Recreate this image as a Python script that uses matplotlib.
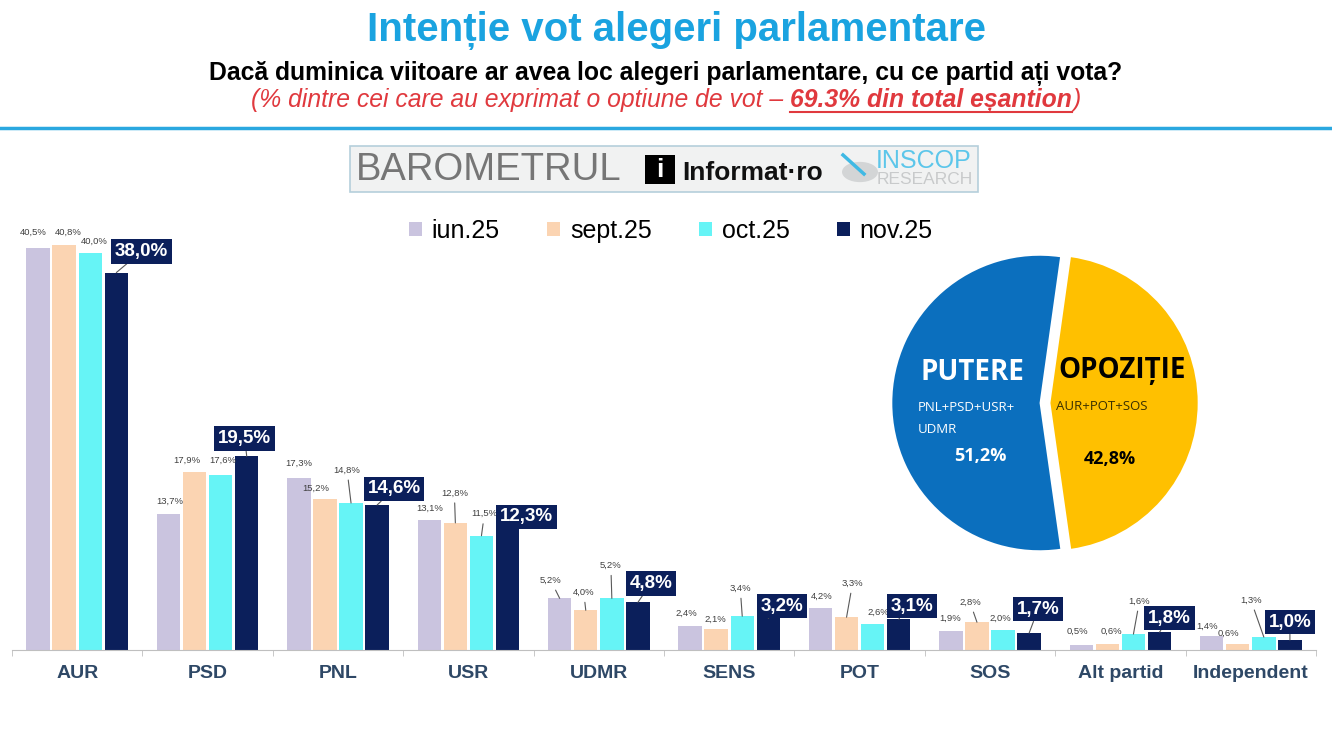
import matplotlib
matplotlib.use("Agg")
import matplotlib.pyplot as plt
from matplotlib.patches import Rectangle, Circle
from matplotlib.lines import Line2D

plt.rcParams['font.family'] = ['Liberation Sans', 'DejaVu Sans']

# data
parties = ["AUR", "PSD", "PNL", "USR", "UDMR", "SENS", "POT", "SOS", "Alt partid", "Independent"]
waves = ["iun.25", "sept.25", "oct.25", "nov.25"]
iun25 = [40.5, 13.7, 17.3, 13.1, 5.2, 2.4, 4.2, 1.9, 0.5, 1.4]
sept25 = [40.8, 17.9, 15.2, 12.8, 4.0, 2.1, 3.3, 2.8, 0.6, 0.6]
oct25 = [40.0, 17.6, 14.8, 11.5, 5.2, 3.4, 2.6, 2.0, 1.6, 1.3]
nov25 = [38.0, 19.5, 14.6, 12.3, 4.8, 3.2, 3.1, 1.7, 1.8, 1.0]
blocs = ["PUTERE", "OPOZIȚIE"]
bloc_members = ["PNL+PSD+USR+\nUDMR", "AUR+POT+SOS"]
bloc_values = [51.2, 42.8]

colors = ["#CAC4DF", "#FBD4B2", "#66F4F6", "#0B1F5B"]

# label offsets in pixels (dx, dy) from bar top, layout only
small_off = [
    [(-5, 15), (1, 13), (0, 15), (0, 12), (-9, 18), (-4, 13), (1, 12), (-1, 13), (-4, 14), (-5, 10)],
    [(4, 12), (-8, 12), (-9, 11), (-1, 30), (-2, 18), (-1, 10), (6, 34), (-7, 20), (4, 13), (-9, 11)],
    [(4, 11), (2, 15), (-4, 33), (3, 22), (-1, 33), (-2, 28), (6, 12), (-3, 12), (6, 33), (-13, 37)],
]
nov_off = [(25, 21), (-2, 18), (17, 16), (19, 11), (13, 19), (14, 12), (13, 13), (9, 24), (10, 14), (0, 18)]

def fmt(v):
    return "{0:.1f}%".format(v).replace(".", ",")

fig = plt.figure(figsize=(13.32, 7.5), dpi=100)

# header
fig.text(677 / 1332, 1 - 30 / 750, "Intenție vot alegeri parlamentare", ha="center", va="center",
         fontsize=29, fontweight="bold", color="#1AA3E0")
fig.text(0.5, 1 - 73 / 750, "Dacă duminica viitoare ar avea loc alegeri parlamentare, cu ce partid ați vota?",
         ha="center", va="center", fontsize=17.8, fontweight="bold", color="black")

red = "#E0393E"
fs_red = 17.8
t1 = fig.text(0.2, 1 - 100 / 750, "(% dintre cei care au exprimat o optiune de vot – ", ha="left",
              va="center", fontsize=fs_red, style="italic", color=red)
t2 = fig.text(0, 0, "69.3% din total eșantion", fontsize=fs_red, style="italic",
              fontweight="bold", color=red, va="center")
t3 = fig.text(0, 0, ")", fontsize=fs_red, style="italic", color=red, va="center")

fig.add_artist(Line2D([0, 1], [1 - 128 / 750] * 2, color="#2AA8E0", lw=2.5))

# logo banner
fig.add_artist(Rectangle((350 / 1332, 1 - 192 / 750), 628 / 1332, 46 / 750,
                         facecolor="#F1F2F2", edgecolor="#B5CFDB", lw=1.2))
fig.text(356 / 1332, 1 - 170 / 750, "BAROMETRUL", fontsize=27.5, color="#767676",
         va="center", ha="left")
fig.add_artist(Rectangle((645 / 1332, 1 - 184 / 750), 30 / 1332, 29 / 750,
                         facecolor="black", edgecolor="none"))
fig.text(660 / 1332, 1 - 170 / 750, "i", fontsize=19, color="white", fontweight="bold",
         ha="center", va="center")
fig.text(682 / 1332, 1 - 173 / 750, "Informat·ro", fontsize=19, fontweight="bold",
         color="#111111", ha="left", va="center")
fig.add_artist(Circle((860 / 1332, 1 - 172 / 750), 0.0135, transform=fig.transFigure,
                      facecolor="#D3D5D6", edgecolor="none"))
fig.add_artist(Line2D([843 / 1332, 864 / 1332], [1 - 155 / 750, 1 - 174 / 750],
                      color="#3FB9E4", lw=2.5))
fig.text(876 / 1332, 1 - 161 / 750, "INSCOP", fontsize=18, color="#5CC6EA", ha="left", va="center")
fig.text(877 / 1332, 1 - 180 / 750, "RESEARCH", fontsize=12.5, color="#C8CACB", ha="left", va="center")

# bars
ax = fig.add_axes([12 / 1332, 100 / 750, 1304 / 1332, 440 / 750])
series = [iun25, sept25, oct25, nov25]
xs = list(range(len(parties)))
bars = []
for j, vals in enumerate(series):
    pos = [x + (j - 1.5) * 0.2 for x in xs]
    b = ax.bar(pos, vals, width=0.18, color=colors[j], label=waves[j], zorder=2)
    bars.append(b)

ax.set_xlim(-0.5, len(parties) - 0.5)
ax.set_ylim(0, 44.3)
ax.set_yticks([])
for s in ["top", "right", "left"]:
    ax.spines[s].set_visible(False)
ax.spines["bottom"].set_color("#BFBFBF")
ax.set_xticks(xs)
ax.set_xticklabels(parties, fontsize=14, fontweight="bold", color="#2E4866")
ax.tick_params(axis="x", length=0, pad=11)
ax.set_xticks([x + 0.5 for x in xs[:-1]] + [-0.5, len(parties) - 0.5], minor=True)
ax.tick_params(axis="x", which="minor", length=4, color="#BFBFBF")

for j in range(3):
    for i, rect in enumerate(bars[j]):
        v = series[j][i]
        dx, dy = small_off[j][i]
        cx = rect.get_x() + rect.get_width() / 2
        arrow = None
        if dy > 17:
            arrow = dict(arrowstyle="-", color="#595959", lw=0.8, shrinkA=2, shrinkB=0)
        ax.annotate(fmt(v), xy=(cx, v), xytext=(dx, dy), textcoords="offset pixels",
                    ha="center", va="center", fontsize=6.8, color="#404040",
                    arrowprops=arrow, zorder=3)

for i, rect in enumerate(bars[3]):
    v = nov25[i]
    dx, dy = nov_off[i]
    cx = rect.get_x() + rect.get_width() / 2
    ax.annotate(fmt(v), xy=(cx, v), xytext=(dx, dy), textcoords="offset pixels",
                ha="center", va="center", fontsize=13.5, fontweight="bold", color="white",
                bbox=dict(boxstyle="square,pad=0.2", facecolor=colors[3], edgecolor="none"),
                arrowprops=dict(arrowstyle="-", color="#595959", lw=0.8, shrinkA=0, shrinkB=0),
                zorder=5)

fig.legend(handles=bars, labels=waves, loc="center", bbox_to_anchor=(671 / 1332, 1 - 231 / 750),
           ncol=4, frameon=False, fontsize=18, handlelength=0.5, handleheight=0.5,
           handletextpad=0.4, columnspacing=1.9)

# pie
pax = fig.add_axes([(1045 - 155) / 1332, (750 - 403 - 155) / 750, 310 / 1332, 310 / 750])
pie_colors = ["#0B6FBE", "#FFC000"]
pax.pie(bloc_values, colors=pie_colors, startangle=82, counterclock=True,
        explode=[0.035, 0.035], radius=0.95)
pax.set_xlim(-1.0, 1.0)
pax.set_ylim(-1.0, 1.0)
pax.set_aspect("equal")
pax.axis("off")

pfont = ["Open Sans", "Liberation Sans"]
pax.text(-0.47, 0.2, blocs[0], ha="center", va="center", fontsize=20, fontweight="bold",
         color="white", family=pfont)
pax.text(-0.82, -0.1, bloc_members[0], ha="left", va="center", fontsize=9.5, color="white",
         family=pfont, linespacing=1.9)
pax.text(-0.42, -0.34, fmt(bloc_values[0]), ha="center", va="center", fontsize=13,
         fontweight="bold", color="white", family=pfont)
pax.text(0.5, 0.21, blocs[1], ha="center", va="center", fontsize=20, fontweight="bold",
         color="black", family=pfont)
pax.text(0.07, -0.02, bloc_members[1], ha="left", va="center", fontsize=9.5, color="#3A3000",
         family=pfont)
pax.text(0.42, -0.36, fmt(bloc_values[1]), ha="center", va="center", fontsize=13,
         fontweight="bold", color="black", family=pfont)

# place the red line pieces next to each other, centred
fig.canvas.draw()
r = fig.canvas.get_renderer()
w1 = t1.get_window_extent(r).width
w2 = t2.get_window_extent(r).width
w3 = t3.get_window_extent(r).width
W = fig.bbox.width
start = (W - (w1 + w2 + w3)) / 2
y = 1 - 100 / 750
t1.set_position((start / W, y))
t2.set_position(((start + w1) / W, y))
t3.set_position(((start + w1 + w2) / W, y))
fig.add_artist(Line2D([(start + w1) / W, (start + w1 + w2) / W], [1 - 112 / 750] * 2,
                      color=red, lw=1.5))

fig.savefig("out.png", dpi=100)
